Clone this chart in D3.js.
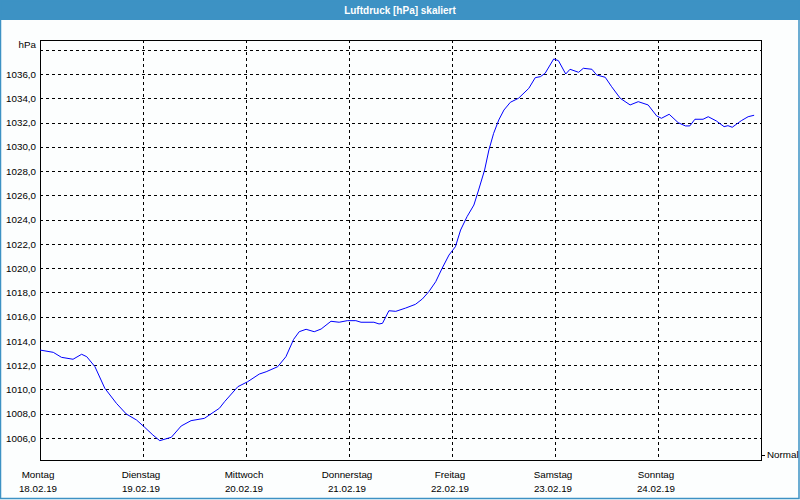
<!DOCTYPE html>
<html lang="de">
<head>
    <meta charset="UTF-8">
    <title>Luftdruck [hPa] skaliert</title>
    <script src="https://d3js.org/d3.v7.min.js"></script>
    <style>
        body {
            margin: 0;
            font-family: "Liberation Sans", Arial, sans-serif;
        }
        svg text {
            font-size: 9.8px;
            fill: #000;
        }
        .grid line {
            stroke: #000;
            stroke-dasharray: 3,3;
            shape-rendering: crispEdges;
        }
    </style>
</head>
<body>
    <svg width="800" height="500"></svg>

    <script>
        // hours since Mo 18.02.19 00:00
        const hours = [0, 3.1, 5.0, 7.7, 9.7, 10.9, 12.8, 15.1, 17.8, 20.1, 22.5, 24.4, 26.3, 27.9, 30.6, 32.9,
            35.2, 38.3, 41.8, 43.0, 46.1, 48.4, 51.1, 52.7, 55.4, 57.3, 59.1, 60.4, 62.0, 63.9, 65.5, 67.8,
            69.7, 71.6, 73.6, 74.8, 77.8, 79.0, 79.8, 81.3, 82.9, 85.2, 87.5, 89.1, 90.6, 92.2, 93.7, 95.3,
            96.8, 98.0, 99.5, 101.1, 102.2, 103.6, 104.6, 105.7, 106.9, 108.1, 109.6, 111.5, 113.9, 115.4,
            116.6, 117.7, 119.7, 120.8, 122.5, 123.5, 125.5, 126.6, 128.6, 129.7, 131.7, 133.2, 135.2, 137.5,
            139.4, 141.7, 143.7, 144.8, 146.6, 148.7, 150.4, 151.4, 152.6, 154.5, 155.7, 157.6, 159.4, 160.3,
            161.3, 163.4, 165.0, 166.4];
        const pressure = [1013.25, 1013.06, 1012.65, 1012.49, 1012.90, 1012.70, 1011.88, 1010.10, 1008.86,
            1007.98, 1007.48, 1006.88, 1006.25, 1005.78, 1006.06, 1006.99, 1007.43, 1007.62, 1008.45, 1008.99,
            1010.23, 1010.64, 1011.27, 1011.46, 1011.88, 1012.70, 1014.13, 1014.76, 1014.96, 1014.76, 1014.98,
            1015.62, 1015.54, 1015.67, 1015.67, 1015.54, 1015.54, 1015.40, 1015.45, 1016.49, 1016.44, 1016.71,
            1017.02, 1017.46, 1018.06, 1018.88, 1019.99, 1021.08, 1021.77, 1023.14, 1024.24, 1025.20, 1026.44,
            1028.09, 1029.74, 1031.11, 1032.21, 1033.03, 1033.67, 1034.00, 1034.82, 1035.70, 1035.78, 1036.06,
            1037.24, 1037.10, 1036.00, 1036.39, 1036.14, 1036.47, 1036.39, 1035.92, 1035.73, 1034.95, 1034.00,
            1033.45, 1033.72, 1033.45, 1032.54, 1032.35, 1032.68, 1031.99, 1031.72, 1031.72, 1032.27, 1032.27,
            1032.48, 1032.13, 1031.66, 1031.74, 1031.61, 1032.15, 1032.48, 1032.60];

        const dayNames = ["Montag", "Dienstag", "Mittwoch", "Donnerstag", "Freitag", "Samstag", "Sonntag"];
        const dayDates = ["18.02.19", "19.02.19", "20.02.19", "21.02.19", "22.02.19", "23.02.19", "24.02.19"];
        const yTicks = [1006, 1008, 1010, 1012, 1014, 1016, 1018, 1020, 1022, 1024, 1026, 1028, 1030, 1032, 1034, 1036];
        const yGrid = yTicks.concat([1038]);
        const normalLevel = 1004.6;

        const svg = d3.select("svg");
        const blue = "#3d92c4";

        // background + frame
        svg.append("rect")
            .attr("width", 800).attr("height", 500)
            .attr("fill", "#fcfefe");
        svg.append("rect")
            .attr("width", 800).attr("height", 20)
            .attr("fill", blue);
        svg.append("rect")
            .attr("x", 0.5).attr("y", 0.5)
            .attr("width", 798.5).attr("height", 498)
            .attr("fill", "none")
            .attr("stroke", blue)
            .attr("stroke-width", 1.5);

        svg.append("text")
            .attr("x", 400).attr("y", 14)
            .attr("text-anchor", "middle")
            .style("font-weight", "bold")
            .style("font-size", "10px")
            .style("fill", "#fff")
            .text("Luftdruck [hPa] skaliert");

        const plot = { left: 40, right: 761, top: 40, bottom: 460 };

        const x = d3.scaleLinear()
            .domain([0, 168])
            .range([plot.left, plot.right]);

        const y = d3.scaleLinear()
            .domain([1004.187, 1038.802])
            .range([plot.bottom, plot.top]);

        // grid
        const grid = svg.append("g").attr("class", "grid");
        grid.selectAll(".h")
            .data(yGrid)
            .enter().append("line")
            .attr("x1", plot.left).attr("x2", plot.right)
            .attr("y1", d => Math.round(y(d)) + 0.5)
            .attr("y2", d => Math.round(y(d)) + 0.5);
        grid.selectAll(".v")
            .data(d3.range(1, 7))
            .enter().append("line")
            .attr("y1", plot.top).attr("y2", plot.bottom)
            .attr("x1", d => Math.round(x(d * 24)) + 0.5)
            .attr("x2", d => Math.round(x(d * 24)) + 0.5);

        // y labels
        const yAxis = svg.append("g")
            .attr("transform", `translate(${plot.left},0)`)
            .call(d3.axisLeft(y)
                .tickValues(yTicks)
                .tickSize(0)
                .tickPadding(4)
                .tickFormat(d => d.toFixed(1).replace(".", ",")));
        yAxis.select(".domain").remove();
        yAxis.selectAll("text")
            .style("font-size", "9.8px")
            .style("font-family", "'Liberation Sans', Arial, sans-serif");

        svg.append("text")
            .attr("x", 36).attr("y", 48)
            .attr("text-anchor", "end")
            .text("hPa");

        // x labels
        const xLab = svg.append("g");
        xLab.selectAll(".day")
            .data(dayNames)
            .enter().append("text")
            .attr("x", (d, i) => x(i * 24) - 2)
            .attr("y", 478)
            .attr("text-anchor", "middle")
            .text(d => d);
        xLab.selectAll(".date")
            .data(dayDates)
            .enter().append("text")
            .attr("x", (d, i) => x(i * 24) - 2)
            .attr("y", 492)
            .attr("text-anchor", "middle")
            .text(d => d);

        // normal marker on right
        svg.append("line")
            .attr("x1", plot.right).attr("x2", plot.right + 4)
            .attr("y1", Math.round(y(normalLevel)) + 0.5)
            .attr("y2", Math.round(y(normalLevel)) + 0.5)
            .attr("stroke", "#000");
        svg.append("text")
            .attr("x", plot.right + 6)
            .attr("y", y(normalLevel) + 3.5)
            .text("Normal");

        // frame of plot
        svg.append("rect")
            .attr("x", plot.left + 0.5).attr("y", plot.top + 0.5)
            .attr("width", plot.right - plot.left).attr("height", plot.bottom - plot.top)
            .attr("fill", "none")
            .attr("stroke", "#000")
            .attr("shape-rendering", "crispEdges");

        // pressure line
        const line = d3.line()
            .x((d, i) => x(hours[i]))
            .y(d => y(d));

        svg.append("path")
            .datum(pressure)
            .attr("fill", "none")
            .attr("stroke", "#0000ff")
            .attr("stroke-width", 1)
            .attr("d", line);
    </script>
</body>
</html>
